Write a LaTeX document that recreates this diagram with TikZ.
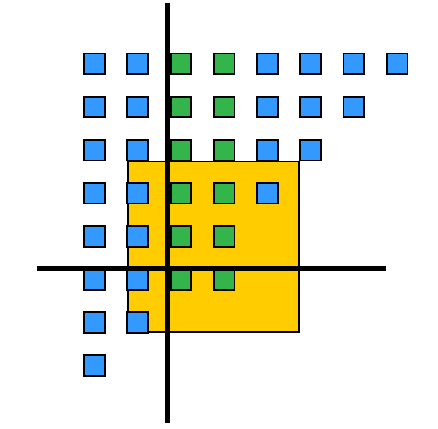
\documentclass[tikz,border=0pt]{standalone}
\usepackage{tikz}
\definecolor{sqblue}{HTML}{3399FF}
\definecolor{sqgreen}{HTML}{33B54C}
\definecolor{boxyellow}{HTML}{FFCC00}
\begin{document}
\begin{tikzpicture}[x=1pt,y=1pt,
  sqbase/.style={draw=black, line width=1.8pt, minimum size=20.7pt, inner sep=0pt, outer sep=0pt},
  sqb/.style={sqbase, fill=sqblue},
  sqg/.style={sqbase, fill=sqgreen},
  yel/.style={draw=black, line width=1.8pt, fill=boxyellow, minimum width=171.5pt, minimum height=170.5pt, inner sep=0pt},
  axisline/.style={line width=5pt, draw=black}]
\useasboundingbox (0,0) rectangle (438,428);
\node[yel] (box) at (213.35,181.3) {};
\foreach \j/\n in {0/7,1/6,2/5,3/4,4/3,5/3,6/1,7/0} {
  \foreach \i in {0,...,\n} {
    \ifnum\i>1 \ifnum\i<4 \def\sty{sqg}\else\def\sty{sqb}\fi\else\def\sty{sqb}\fi
    \node[\sty] (s-\i-\j) at ({94.5+43.23*\i},{428-63.9-43.1*\j}) {};
  }
}
\coordinate (vt) at (167,425);
\coordinate (vb) at (167,5);
\coordinate (hl) at (37,159.5);
\coordinate (hr) at (386,159.5);
\draw[axisline] (vt) -- (vb);
\draw[axisline] (hl) -- (hr);
\end{tikzpicture}
\end{document}
